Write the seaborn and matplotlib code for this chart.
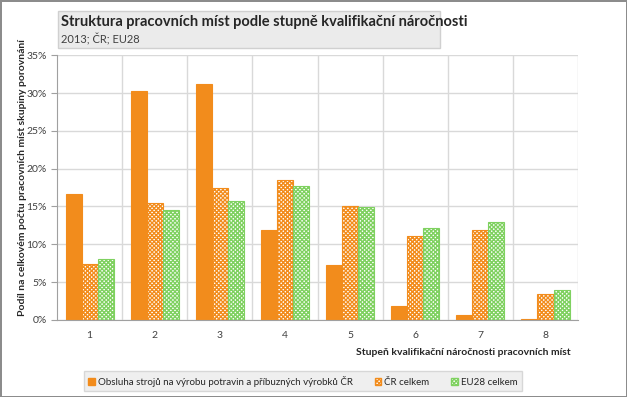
import pandas as pd
import numpy as np
import seaborn as sns
import matplotlib.pyplot as plt
from matplotlib.patches import Rectangle, Patch

# values (percent)
stupne = ["1", "2", "3", "4", "5", "6", "7", "8"]
obsluha = [16.7, 30.3, 31.2, 11.9, 7.3, 1.8, 0.6, 0.1]
cr_celkem = [7.4, 15.4, 17.4, 18.5, 15.0, 11.1, 11.9, 3.4]
eu_celkem = [8.1, 14.6, 15.7, 17.7, 14.9, 12.1, 12.9, 4.0]
serie = ["Obsluha strojů na výrobu potravin a příbuzných výrobků ČR", "ČR celkem", "EU28 celkem"]
yticks = [0, 5, 10, 15, 20, 25, 30, 35]

df = pd.DataFrame({
    "stupen": stupne * 3,
    "hodnota": obsluha + cr_celkem + eu_celkem,
    "serie": [serie[0]] * 8 + [serie[1]] * 8 + [serie[2]] * 8,
})

sns.set_style("white")
plt.rcParams['font.family'] = ['Lato', 'DejaVu Sans']
plt.rcParams['hatch.linewidth'] = 1.0

orange = "#f28c1c"
green = "#7fd160"
hatch = "xxxxxxxx"

fig = plt.figure(figsize=(6.27, 3.97), dpi=100, edgecolor="#8c8c8c", linewidth=2)
ax = fig.add_axes([0.091, 0.194, 0.831, 0.667])

sns.barplot(data=df, x="stupen", y="hodnota", hue="serie", palette=[orange, "white", "white"],
            width=0.74, ax=ax, legend=False, saturation=1)

styles = [(orange, orange, ""), ("white", orange, hatch), ("white", green, hatch)]
for cont, (fc, ec, h) in zip(ax.containers, styles):
    for p in cont:
        p.set_facecolor(fc)
        p.set_edgecolor(ec)
        p.set_hatch(h)
        p.set_linewidth(0.8)

ax.set_ylim(0, 35)
ax.set_xlim(-0.5, 7.5)
ax.set_yticks(yticks)
ax.set_yticklabels([f"{v}%" for v in yticks], fontsize=7.5, color="#404040")
ax.set_xticks(np.arange(8))
ax.set_xticklabels(stupne, fontsize=7.5, color="#404040")
ax.set_xticks(np.arange(8) + 0.5, minor=True)
ax.tick_params(axis="x", which="major", length=0, pad=8)
ax.tick_params(axis="x", which="minor", length=4, color="#a0a0a0", direction="out")
ax.tick_params(axis="y", length=4, color="#a0a0a0", direction="out", left=True)
ax.set_axisbelow(True)
ax.grid(axis="y", color="#d9d9d9", linewidth=1)
ax.grid(axis="x", which="minor", color="#d9d9d9", linewidth=1)
for s in ["top", "right"]:
    ax.spines[s].set_visible(False)
for s in ["left", "bottom"]:
    ax.spines[s].set_color("#a0a0a0")
ax.set_xlabel("")
ax.set_ylabel("")

fig.text(0.91, 0.113, "Stupeň kvalifikační náročnosti pracovních míst", fontsize=7.5,
         fontweight="bold", ha="right", va="center")
fig.text(0.036, 0.205, "Podíl na celkovém počtu pracovních míst skupiny porovnání", fontsize=7.5,
         fontweight="bold", rotation=90, ha="center", va="bottom")

# title box
fig.patches.append(Rectangle((0.092, 0.879), 0.61, 0.093, transform=fig.transFigure,
                             facecolor="#ebebeb", edgecolor="#d0d0d0", linewidth=1))
fig.text(0.098, 0.945, "Struktura pracovních míst podle stupně kvalifikační náročnosti",
         fontsize=10.5, fontweight="bold", va="center")
fig.text(0.098, 0.9, "2013; ČR; EU28", fontsize=8, va="center", color="#404040")

handles = [Patch(facecolor=orange, edgecolor=orange),
           Patch(facecolor="white", edgecolor=orange, hatch=hatch),
           Patch(facecolor="white", edgecolor=green, hatch=hatch)]
leg = fig.legend(handles, serie, loc="center", bbox_to_anchor=(0.483, 0.04), ncol=3,
                 fontsize=7, frameon=True, fancybox=False, handlelength=0.7, handleheight=0.7,
                 handletextpad=0.3, columnspacing=2.2, borderpad=0.45)
leg.get_frame().set_facecolor("#ebebeb")
leg.get_frame().set_edgecolor("#d0d0d0")

fig.savefig("out.png", dpi=100)
